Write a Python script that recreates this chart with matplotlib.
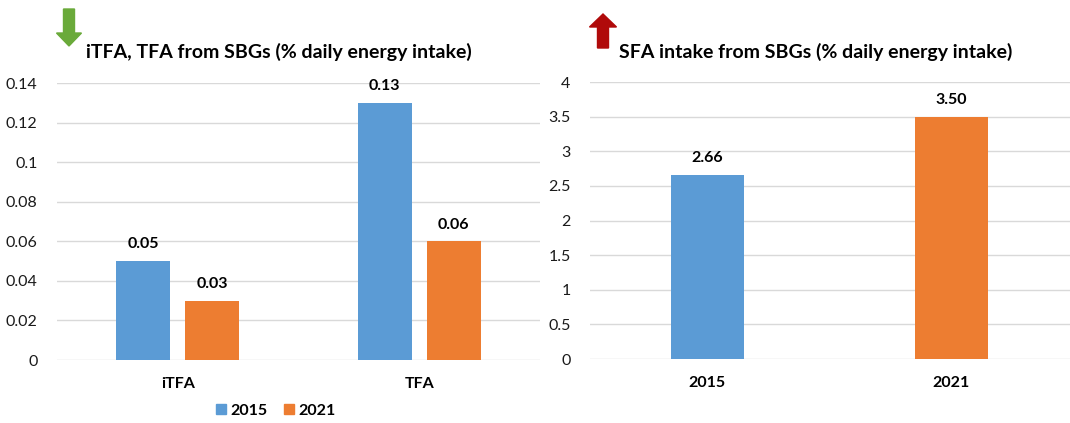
import matplotlib
matplotlib.use("Agg")
import numpy as np
import matplotlib.pyplot as plt
from matplotlib.patches import FancyArrow, Rectangle

plt.rcParams['font.family'] = ['Lato', 'DejaVu Sans']

years = ['2015', '2021']
colors = ['#5B9BD5', '#ED7D31']

tfa_categories = ['iTFA', 'TFA']
tfa_2015 = [0.05, 0.13]
tfa_2021 = [0.03, 0.06]
tfa_ticks = [0, 0.02, 0.04, 0.06, 0.08, 0.1, 0.12, 0.14]
tfa_tick_labels = ['0', '0.02', '0.04', '0.06', '0.08', '0.1', '0.12', '0.14']

sfa_years = ['2015', '2021']
sfa_values = [2.66, 3.50]
sfa_ticks = [0, 0.5, 1, 1.5, 2, 2.5, 3, 3.5, 4]
sfa_tick_labels = ['0', '0.5', '1', '1.5', '2', '2.5', '3', '3.5', '4']

W, H = 1070, 423
fig = plt.figure(figsize=(W / 100, H / 100), dpi=100)


def style_axes(ax, ticks, labels, top):
    ax.set_ylim(0, top)
    ax.set_yticks(ticks)
    ax.set_yticklabels(labels, fontsize=11.5, color='#1a1a1a')
    ax.grid(axis='y', color='#D9D9D9', linewidth=1)
    ax.set_axisbelow(True)
    for side in ['top', 'right', 'left', 'bottom']:
        ax.spines[side].set_visible(False)
    ax.tick_params(axis='both', length=0)
    ax.tick_params(axis='y', pad=14)
    ax.tick_params(axis='x', pad=12)


def label_bars(ax, bars):
    for rect in bars:
        h = rect.get_height()
        ax.annotate(f'{h:.2f}', (rect.get_x() + rect.get_width() / 2, h),
                    xytext=(0, 7), textcoords='offset points',
                    ha='center', va='bottom', fontsize=11.5, fontweight='bold')


# left panel: trans fats
ax1 = fig.add_axes([57 / W, (H - 360) / H, 483 / W, 277 / H])
x = np.arange(len(tfa_categories))
bw = 0.224
off = 0.143
label_bars(ax1, ax1.bar(x - off, tfa_2015, bw, color=colors[0], label=years[0]))
label_bars(ax1, ax1.bar(x + off, tfa_2021, bw, color=colors[1], label=years[1]))
ax1.set_xlim(-0.5, 1.5)
ax1.set_xticks(x)
ax1.set_xticklabels(tfa_categories, fontsize=11.5, fontweight='bold')
style_axes(ax1, tfa_ticks, tfa_tick_labels, 0.14)

handles = [Rectangle((0, 0), 1, 1, color=c) for c in colors]
fig.legend(handles, years, loc='center', bbox_to_anchor=(276 / W, (H - 411) / H),
           ncol=2, frameon=False, handlelength=0.6, handleheight=0.6,
           handletextpad=0.3, columnspacing=1.0,
           prop={'size': 11.5, 'weight': 'bold'})

fig.text(279 / W, (H - 52) / H, 'iTFA, TFA from SBGs (% daily energy intake)',
         ha='center', va='center', fontsize=14, fontweight='bold')

# right panel: saturated fat
ax2 = fig.add_axes([590 / W, (H - 359) / H, 488 / W, 277 / H])
xs = np.arange(len(sfa_years))
label_bars(ax2, ax2.bar(xs, sfa_values, 0.30, color=colors))
ax2.set_xlim(-0.48, 1.52)
ax2.set_xticks(xs)
ax2.set_xticklabels(sfa_years, fontsize=11.5, fontweight='bold')
style_axes(ax2, sfa_ticks, sfa_tick_labels, 4)

fig.text(816 / W, (H - 52) / H, 'SFA intake from SBGs (% daily energy intake)',
         ha='center', va='center', fontsize=14, fontweight='bold')

# trend arrows next to the titles
fig.patches.append(FancyArrow(69 / W, (H - 9) / H, 0, -37 / H, width=11 / W,
                              head_width=25 / W, head_length=13 / H,
                              length_includes_head=True, color='#6AAA3A',
                              transform=fig.transFigure, figure=fig))
fig.patches.append(FancyArrow(603 / W, (H - 48) / H, 0, 34 / H, width=11 / W,
                              head_width=27 / W, head_length=13 / H,
                              length_includes_head=True, color='#B00A0A',
                              transform=fig.transFigure, figure=fig))

fig.savefig('out.png', dpi=100)
